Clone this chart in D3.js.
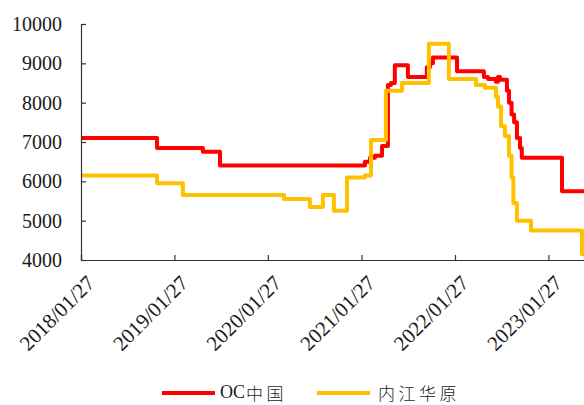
<!DOCTYPE html>
<html>
<head>
<meta charset="utf-8">
<script src="https://cdn.jsdelivr.net/npm/d3@7/dist/d3.min.js"></script>
<style>
  html, body { margin: 0; padding: 0; background: #fff; }
  svg { display: block; }
</style>
</head>
<body>
<svg id="chart" width="584" height="405"></svg>
<script>
// Series names
const seriesNames = ["OC中国", "内江华原"];

// OC中国 price steps (date, value)
const ocDates = [
  "2018-01-27", "2018-11-20", "2019-05-18", "2019-07-24", "2021-02-09", "2021-03-01",
  "2021-03-20", "2021-04-17", "2021-05-10", "2021-05-22", "2021-06-06", "2021-07-27",
  "2021-10-09", "2021-10-21", "2021-11-02", "2022-02-04", "2022-05-20", "2022-06-05",
  "2022-07-06", "2022-07-14", "2022-07-22", "2022-08-18", "2022-08-26", "2022-09-05",
  "2022-09-15", "2022-09-26", "2022-10-08", "2022-10-15", "2023-03-21", "2023-06-15"
];
const ocValues = [
  7100, 6850, 6750, 6400, 6500, 6600,
  6650, 6900, 8450, 8500, 8950, 8650,
  8900, 9000, 9150, 8800, 8650, 8600,
  8530, 8650, 8580, 8300, 8000, 7700,
  7500, 7100, 6850, 6600, 5750, 5750
];

// 内江华原 price steps (date, value)
const njDates = [
  "2018-01-27", "2018-11-20", "2019-03-01", "2020-03-30", "2020-07-09", "2020-08-29",
  "2020-10-11", "2020-12-01", "2021-02-09", "2021-03-05", "2021-05-02", "2021-07-04",
  "2021-10-17", "2022-01-03", "2022-04-19", "2022-05-24", "2022-07-06", "2022-07-14",
  "2022-07-26", "2022-08-10", "2022-08-26", "2022-09-05", "2022-09-12", "2022-09-26",
  "2022-11-20", "2023-06-07", "2023-06-15"
];
const njValues = [
  6150, 5950, 5650, 5550, 5350, 5650,
  5250, 6100, 6150, 7050, 8300, 8500,
  9500, 8600, 8450, 8380, 8150, 7900,
  7400, 7150, 6650, 6100, 5450, 5000,
  4750, 4150, 4150
];

// Axis ticks
const xTickLabels = ["2018/01/27", "2019/01/27", "2020/01/27", "2021/01/27", "2022/01/27", "2023/01/27"];
const yTickValues = [4000, 5000, 6000, 7000, 8000, 9000, 10000];

const colors = ["#FF0000", "#FFC000"];
const serif = '"Liberation Serif", "Times New Roman", serif';
const cjk = '"Noto Sans CJK SC", sans-serif';

const parse = d3.timeParse("%Y-%m-%d");
const tickParse = d3.timeParse("%Y/%m/%d");
const fmt = d3.timeFormat("%Y/%m/%d");

const series = [
  { name: seriesNames[0], color: colors[0], points: ocDates.map((d, i) => ({ date: parse(d), value: ocValues[i] })) },
  { name: seriesNames[1], color: colors[1], points: njDates.map((d, i) => ({ date: parse(d), value: njValues[i] })) }
];

const svg = d3.select("#chart");
const plotLeft = 81, plotRight = 584, plotTop = 24, plotBottom = 260;

const x = d3.scaleTime()
  .domain([parse("2018-01-27"), parse("2023-06-15")])
  .range([plotLeft, plotRight]);
const y = d3.scaleLinear()
  .domain([4000, 10000])
  .range([plotBottom, plotTop]);

// Series lines
const line = d3.line()
  .x(d => x(d.date))
  .y(d => y(d.value))
  .curve(d3.curveStepAfter);

svg.append("g").selectAll("path")
  .data(series)
  .join("path")
  .attr("fill", "none")
  .attr("stroke", d => d.color)
  .attr("stroke-width", 4)
  .attr("stroke-linejoin", "round")
  .attr("d", d => line(d.points));

// Y axis
const yAxis = svg.append("g")
  .attr("transform", `translate(${plotLeft},0)`)
  .call(d3.axisLeft(y).tickValues(yTickValues).tickSize(-5).tickPadding(19).tickFormat(d3.format("d")));
yAxis.selectAll("text")
  .style("font-family", serif)
  .style("font-size", "20px")
  .attr("fill", "#1a1a1a");

// X axis
const xAxis = svg.append("g")
  .attr("transform", `translate(0,${plotBottom})`)
  .call(d3.axisBottom(x).tickValues(xTickLabels.map(tickParse)).tickSize(-5).tickFormat(fmt));
xAxis.selectAll("text")
  .style("font-family", serif)
  .style("font-size", "21px")
  .attr("fill", "#1a1a1a")
  .attr("text-anchor", "end")
  .attr("transform", "translate(4,14) rotate(-45)")
  .attr("dy", "0.7em")
  .attr("x", 0)
  .attr("y", 0);

[yAxis, xAxis].forEach(a => {
  a.select(".domain").attr("stroke", "#333").attr("stroke-width", 1.2);
  a.selectAll(".tick line").attr("stroke", "#333").attr("stroke-width", 1.2);
});

// Legend: Latin part in serif, Chinese part spaced out
const legendItems = [
  { x1: 162, x2: 215, tx: 220 },
  { x1: 317, x2: 370, tx: 378 }
];
const legendY = 392;
const legend = svg.append("g");
series.forEach((s, i) => {
  const p = legendItems[i];
  legend.append("line")
    .attr("x1", p.x1).attr("x2", p.x2)
    .attr("y1", legendY + 1).attr("y2", legendY + 1)
    .attr("stroke", s.color).attr("stroke-width", 4);
  const latin = s.name.match(/^[A-Za-z]*/)[0];
  const rest = s.name.slice(latin.length);
  const t = legend.append("text")
    .attr("x", p.tx).attr("y", legendY)
    .attr("dominant-baseline", "central")
    .style("font-size", "17px")
    .attr("fill", "#1a1a1a");
  if (latin) t.append("tspan").style("font-family", serif).style("font-size", "18px").text(latin);
  t.append("tspan")
    .style("font-family", cjk)
    .style("font-weight", 300)
    .attr("dx", latin ? 1 : 0)
    .attr("letter-spacing", 3.5)
    .text(rest);
});
</script>
</body>
</html>
